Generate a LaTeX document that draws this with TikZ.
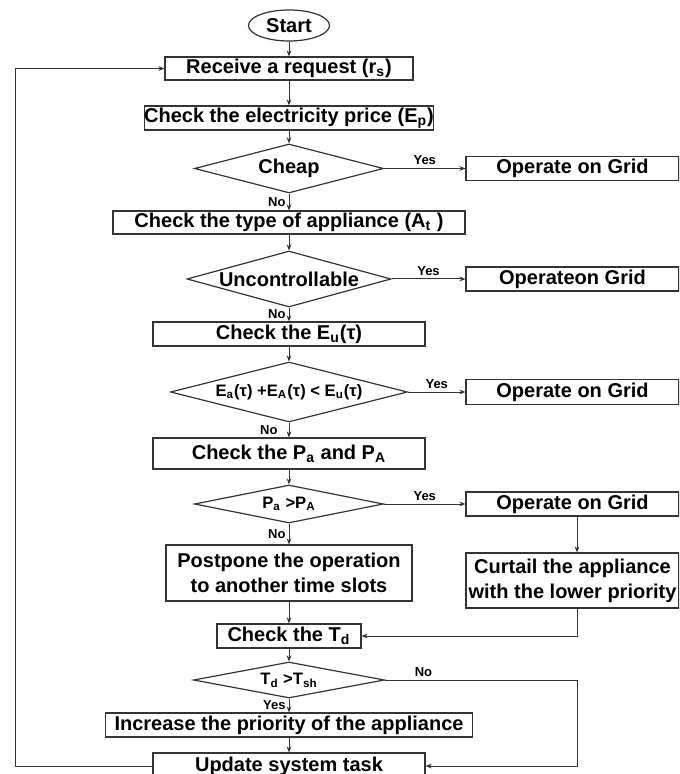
\documentclass[tikz,border=0pt]{standalone}
\usepackage{fontspec}
\setmainfont{Liberation Sans}
\usetikzlibrary{shapes.geometric,arrows.meta}

\tikzset{
  box/.style={draw=black!80, line width=0.6pt, rectangle, inner sep=0pt, align=center,
    font=\bfseries\fontsize{10}{12.5}\selectfont},
  dec/.style={draw=black!80, line width=0.6pt, diamond, inner sep=0pt},
  dbig/.style={font=\bfseries\fontsize{10}{12}\selectfont},
  dsmall/.style={font=\bfseries\fontsize{8.3}{10}\selectfont},
  ans/.style={font=\bfseries\fontsize{6.5}{7}\selectfont, inner sep=1.5pt},
  flow/.style={draw=black!80, line width=0.5pt, -{Stealth[length=3pt,width=2.4pt]}},
}

\begin{document}
\begin{tikzpicture}[x=0.5pt, y=-0.5pt]
    \useasboundingbox (0,0) rectangle (679,774);
    \clip (0,0) rectangle (679,774);
    \coordinate (colx) at (577,0);
    \coordinate (loopx) at (15,0);

    % main column
    \node[draw=black!80, line width=0.6pt, ellipse, inner sep=0pt, minimum width=40.5pt, minimum height=15.5pt,
      font=\bfseries\fontsize{10}{12}\selectfont] (start) at (289,25.5) {Start};
    \node[box, minimum width=124pt, minimum height=11.5pt] (recv) at (289,68.5) {Receive a request (r\textsubscript{s})};
    \node[box, minimum width=142pt, minimum height=12pt] (price) at (289,118) {Check the electricity price (E\textsubscript{p})};
    \node[dec, minimum width=94.5pt, minimum height=24.5pt, label={[dbig]center:Cheap}] (cheap) at (289,168.5) {};
    \node[box, minimum width=176pt, minimum height=11.5pt] (atype) at (289,222.5) {Check the type of appliance (A\textsubscript{t} )};
    \node[dec, minimum width=102pt, minimum height=28pt, label={[dbig]center:Uncontrollable}] (unctl) at (289,279) {};
    \node[box, minimum width=136pt, minimum height=12pt] (eu) at (289,334) {Check the E\textsubscript{u}(τ)};
    \node[dec, minimum width=118.5pt, minimum height=30pt,
      label={[dsmall]center:E\textsubscript{a}(τ) +E\textsubscript{A}(τ) < E\textsubscript{u}(τ)}] (ecmp) at (289,392) {};
    \node[box, minimum width=136pt, minimum height=15.5pt] (pa) at (289,453.5) {Check the P\textsubscript{a} and P\textsubscript{A}};
    \node[dec, minimum width=94.5pt, minimum height=19pt, label={[dsmall]center:P\textsubscript{a} >P\textsubscript{A}}] (pcmp) at (289,504) {};
    \node[box, minimum width=123pt, minimum height=28pt] (post) at (289,573) {Postpone the operation\\to another time slots};
    \node[box, minimum width=72pt, minimum height=12pt] (td) at (289,636) {Check the T\textsubscript{d}};
    \node[dec, minimum width=95.5pt, minimum height=18pt, label={[dsmall]center:T\textsubscript{d} >T\textsubscript{sh}}] (tcmp) at (289,680) {};
    \node[box, minimum width=183.5pt, minimum height=12pt] (incr) at (289,725) {Increase the priority of the appliance};
    \node[box, minimum width=136pt, minimum height=13pt] (upd) at (289,766) {Update system task};

    % right column
    \node[box, minimum width=106.5pt, minimum height=12pt] (op1) at (572.5,168.5) {Operate on Grid};
    \node[box, minimum width=106.5pt, minimum height=12pt] (op2) at (572.5,279) {Operateon Grid};
    \node[box, minimum width=106.5pt, minimum height=12.5pt] (op3) at (572.5,392) {Operate on Grid};
    \node[box, minimum width=106.5pt, minimum height=12pt] (op4) at (572.5,504) {Operate on Grid};
    \node[box, minimum width=106.5pt, minimum height=27.5pt] (curt) at (572.5,580.5) {Curtail the appliance\\with the lower priority};

    \draw[flow] (start) -- (recv);
    \draw[flow] (recv) -- (price);
    \draw[flow] (price) -- (cheap);
    \draw[flow] (cheap.east) -- node[ans, above]{Yes} (op1.west);
    \draw[flow] (cheap.south) -- node[ans, left]{No} (atype.north);
    \draw[flow] (atype) -- (unctl);
    \draw[flow] (unctl.east) -- node[ans, above]{Yes} (op2.west);
    \draw[flow] (unctl.south) -- node[ans, left]{No} (eu.north);
    \draw[flow] (eu) -- (ecmp);
    \draw[flow] (ecmp.east) -- node[ans, above]{Yes} (op3.west);
    \draw[flow] (ecmp.south) -- node[ans, left, xshift=-4pt]{No} (pa.north);
    \draw[flow] (pa) -- (pcmp);
    \draw[flow] (pcmp.east) -- node[ans, above]{Yes} (op4.west);
    \draw[flow] (pcmp.south) -- node[ans, left]{No} (post.north);
    \draw[flow] (op4.south -| colx) -- (curt.north -| colx);
    \draw[flow] (curt.south -| colx) |- (td.east);
    \draw[flow] (post) -- (td);
    \draw[flow] (td) -- (tcmp);
    \draw[flow] (tcmp.south) -- node[ans, left]{Yes} (incr.north);
    \draw[flow] (tcmp.east) -- node[ans, above, pos=0.2]{No} (tcmp.east -| colx) |- (upd.east);
    \draw[flow] (incr) -- (upd);
    % loop back
    \draw[flow] (upd.west) -- (upd.west -| loopx) |- (recv.west);
\end{tikzpicture}
\end{document}
